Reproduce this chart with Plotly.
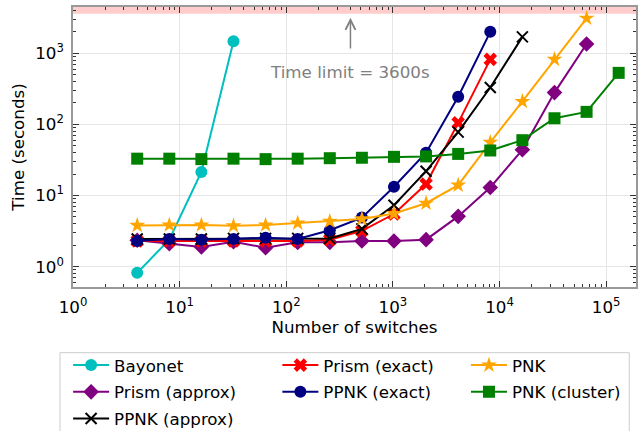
import math
import plotly.graph_objects as go

# ---------------- data ----------------
switches = [4, 8, 16, 32, 64, 128, 256, 512, 1024, 2048, 4096, 8192, 16384, 32768, 65536, 131072]
bayonet = [0.82, 2.4, 21.5, 1480]
prism_approx = [2.35, 2.1, 1.9, 2.25, 1.85, 2.2, 2.2, 2.3, 2.3, 2.4, 5.1, 13, 44, 280, 1350]
ppnk_approx = [2.45, 2.45, 2.45, 2.5, 2.5, 2.5, 2.5, 3.4, 7.3, 22, 78, 330, 1700]
prism_exact = [2.3, 2.3, 2.3, 2.3, 2.3, 2.3, 2.4, 3.2, 5.5, 14.5, 105, 820]
ppnk_exact = [2.3, 2.45, 2.4, 2.45, 2.55, 2.45, 3.25, 4.9, 13.3, 40, 245, 2000]
pnk = [3.8, 3.85, 3.85, 3.75, 3.85, 4.1, 4.35, 4.7, 5.6, 7.8, 14, 56, 210, 820, 3100]
pnk_cluster = [33, 33, 32.5, 33, 32.5, 33, 33.5, 34, 35, 35.5, 38.5, 43, 60, 122, 150, 530]

time_limit = 3600
x_tick_vals = [1, 10, 100, 1000, 10000, 100000]
x_tick_text = ["10<sup>0</sup>", "10<sup>1</sup>", "10<sup>2</sup>", "10<sup>3</sup>", "10<sup>4</sup>", "10<sup>5</sup>"]
y_tick_vals = [1, 10, 100, 1000]
y_tick_text = ["10<sup>0</sup>", "10<sup>1</sup>", "10<sup>2</sup>", "10<sup>3</sup>"]

FONT = "DejaVu Sans"
FS = 16.7

series = [
    # name, values, color, symbol, size, legend, rank
    ("Bayonet", bayonet, "#00bfbf", "circle", 12, "legend", 1),
    ("Prism (approx)", prism_approx, "#800080", "diamond", 12, "legend", 2),
    ("Prism (exact)", prism_exact, "#ff0000", "x", 12, "legend2", 1),
    ("PPNK (approx)", ppnk_approx, "#000000", "x-thin-open", 11, "legend", 3),
    ("PPNK (exact)", ppnk_exact, "#000080", "circle", 12, "legend2", 2),
    ("PNK", pnk, "#ffa500", "star", 12, "legend3", 1),
    ("PNK (cluster)", pnk_cluster, "#008000", "square", 12, "legend3", 2),
]

fig = go.Figure()
for name, vals, color, sym, size, leg, rank in series:
    fig.add_trace(go.Scatter(
        x=switches[:len(vals)], y=vals, name=name, mode="lines+markers",
        line=dict(color=color, width=2),
        marker=dict(symbol=sym, size=size, color=color,
                    line=dict(color=color, width=2 if sym == "x-thin-open" else 0)),
        legend=leg, legendrank=rank, legendgroup=name,
    ))

# time limit band
fig.add_shape(type="rect", xref="paper", yref="y", x0=0, x1=1,
              y0=time_limit, y1=10 ** 3.65, fillcolor="rgba(255,0,0,0.2)",
              line=dict(width=0), layer="below")

# arrow + text
fig.add_annotation(x=math.log10(400), y=math.log10(3150), ax=math.log10(400), ay=math.log10(1110),
                   xref="x", yref="y", axref="x", ayref="y", text="", showarrow=True,
                   arrowhead=5, arrowsize=1.3, arrowwidth=1.5, arrowcolor="#808080")
fig.add_annotation(x=math.log10(400), y=math.log10(540), xref="x", yref="y",
                   text="Time limit = 3600s", showarrow=False,
                   font=dict(family=FONT, size=FS, color="#808080"))

# legend frame
fig.add_shape(type="rect", xref="paper", yref="paper", x0=-0.0231, x1=0.988,
              y0=-0.2346, y1=-0.52, line=dict(color="#cccccc", width=1),
              fillcolor="rgba(0,0,0,0)")

axis_common = dict(
    type="log", showline=True, linecolor="#999999", linewidth=1.5, mirror="allticks",
    ticks="inside", ticklen=6, tickwidth=1, tickcolor="#333333", automargin=False,
    showgrid=True, gridcolor="#e6e6e6", gridwidth=1, zeroline=False,
    tickfont=dict(family=FONT, size=FS, color="#000000"),
    minor=dict(ticks="inside", ticklen=3, tickcolor="#333333", dtick="D1", showgrid=False),
)

fig.update_xaxes(**axis_common, range=[0, 5.28], tickmode="array",
                 tickvals=x_tick_vals, ticktext=x_tick_text, ticklabelstandoff=4,
                 title=dict(text="Number of switches", standoff=6,
                            font=dict(family=FONT, size=FS, color="#000000")))
fig.update_yaxes(**axis_common, range=[-0.285, 3.65], tickmode="array",
                 tickvals=y_tick_vals, ticktext=y_tick_text, ticklabelstandoff=4,
                 title=dict(text="Time (seconds)", standoff=6,
                            font=dict(family=FONT, size=FS, color="#000000")))

leg_common = dict(font=dict(family=FONT, size=FS, color="#000000"),
                  bgcolor="rgba(0,0,0,0)", borderwidth=0, yanchor="top", xanchor="left",
                  y=-0.217, traceorder="grouped", itemwidth=36, tracegroupgap=2)
fig.update_layout(
    width=644, height=431,
    margin=dict(l=73, r=8, t=7, b=144, autoexpand=False),
    paper_bgcolor="white", plot_bgcolor="white",
    font=dict(family=FONT, size=FS, color="#000000"),
    showlegend=True,
    legend=dict(**leg_common, x=-0.0087),
    legend2=dict(**leg_common, x=0.363),
    legend3=dict(**leg_common, x=0.698),
)

fig.write_html("out.html", config={"displayModeBar": False},
               post_script="document.body.style.margin='0';document.body.style.padding='0';"
                           "document.documentElement.style.overflow='hidden';")
